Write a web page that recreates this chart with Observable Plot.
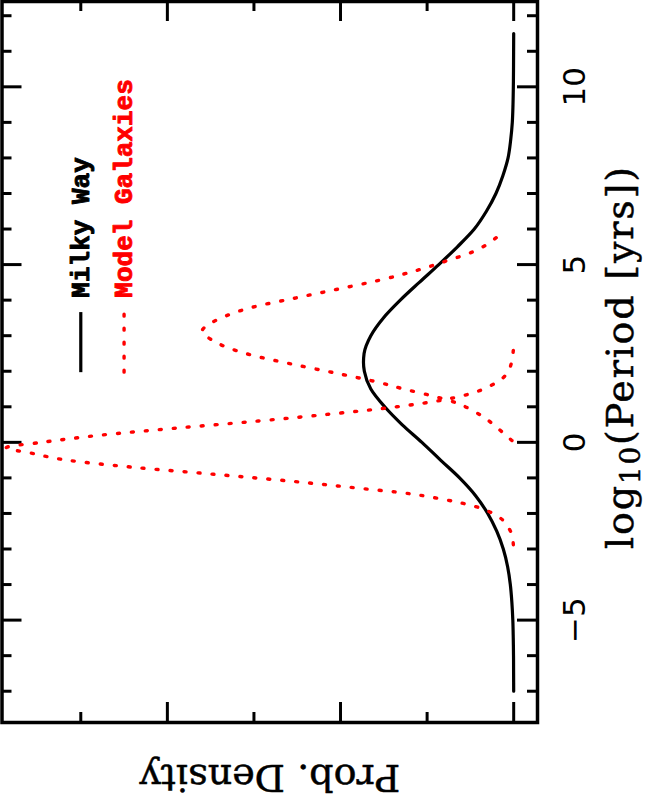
<!DOCTYPE html>
<html>
<head>
<meta charset="utf-8">
<script src="https://cdn.jsdelivr.net/npm/d3@7"></script>
<script src="https://cdn.jsdelivr.net/npm/@observablehq/plot@0.6"></script>
<style>
  html, body { margin: 0; padding: 0; background: #fff; }
  #chart { width: 649px; height: 800px; overflow: hidden; }
</style>
</head>
<body>
<div id="chart"></div>
<script>
// ---- data (log10 period in years, probability density) ----
const mwLogP = [-7,-6.5,-6,-5.5,-5,-4.5,-4,-3.5,-3,-2.5,-2,-1.5,-1,-0.5,0,0.5,1,1.5,2,2.25,2.5,3,3.5,4,4.5,5,5.5,6,6.5,7,7.5,8,8.5,9,9.5,10,10.5,11,11.5];
const mwDensity = [0,0.0001,0.0002,0.0005,0.001,0.0021,0.0039,0.007,0.012,0.0196,0.03,0.044,0.0625,0.0845,0.106,0.129,0.149,0.165,0.1725,0.1735,0.1728,0.165,0.1505,0.131,0.109,0.0865,0.065,0.0455,0.0315,0.0205,0.0125,0.0065,0.0035,0.0016,0.0008,0.0004,0.0002,0.0001,0];

const modelALogP = [-2.88,-2.6,-2.4,-2.2,-2.0,-1.8,-1.6,-1.5,-1.4,-1.3,-1.1,-0.9,-0.7,-0.5,-0.3,-0.15,0,0.2,0.4,0.6,0.8,1.0,1.2,1.4,1.6,1.8,2.0,2.2,2.6];
const modelADensity = [0.0004,0.002,0.006,0.012,0.024,0.045,0.082,0.105,0.135,0.175,0.254,0.345,0.44,0.516,0.558,0.586,0.545,0.478,0.39,0.295,0.21,0.135,0.08,0.046,0.026,0.013,0.006,0.003,0.0004];

const modelBLogP = [0.05,0.2,0.45,0.7,0.9,1.1,1.3,1.5,1.7,1.95,2.2,2.45,2.7,2.9,3.12,3.35,3.55,3.8,4.05,4.3,4.55,4.85,5.1,5.35,5.55,5.78];
const modelBDensity = [0.002,0.009,0.021,0.034,0.048,0.065,0.093,0.127,0.158,0.206,0.256,0.302,0.334,0.35,0.36,0.35,0.333,0.302,0.254,0.205,0.157,0.11,0.078,0.048,0.032,0.019];

const logPMajorTicks = [-5, 0, 5, 10];
const logPMinorTicks = [-7,-6,-4,-3,-2,-1,1,2,3,4,6,7,8,9,11,12];
const densityMajorTicks = [0, 0.2, 0.4];
const densityMinorTicks = [0.1, 0.3, 0.5];

const seriesNames = ["Milky Way", "Model Galaxies"];
const xLabel = "log10(Period [yrs])";
const yLabel = "Prob. Density";

// ---- tables ----
const mw = mwLogP.map((p, i) => ({p, d: mwDensity[i]}));
const modelA = modelALogP.map((p, i) => ({p, d: modelADensity[i]}));
const modelB = modelBLogP.map((p, i) => ({p, d: modelBDensity[i]}));

// ---- layout ----
const W = 649, H = 800;
const mL = 1.5, mR = 112, mT = 1, mB = 78;
const frameW = W - mL - mR, frameH = H - mT - mB;
const majorLen = 20, minorLen = 10;
const tickW = 3;
const dotted = {stroke: "#ff0000", strokeWidth: 3.4, strokeDasharray: "2 12", strokeLinecap: "round"};
const solid = {stroke: "#000", strokeWidth: 3.2};
const labelFont = "DejaVu Serif";
const fmtTick = d => d < 0 ? "\u2212" + Math.abs(d) : String(d);

const plot = Plot.plot({
  width: W, height: H,
  marginLeft: mL, marginRight: mR, marginTop: mT, marginBottom: mB,
  x: {domain: [0.591, -0.0275], axis: null},
  y: {domain: [-7.88, 12.4], axis: null},
  style: {background: "white", overflow: "visible"},
  marks: [
    // log-period ticks (right and left edges, pointing inward)
    Plot.tickY(logPMinorTicks, {y: d => d, insetLeft: frameW - minorLen, stroke: "#000", strokeWidth: tickW}),
    Plot.tickY(logPMinorTicks, {y: d => d, insetRight: frameW - minorLen, stroke: "#000", strokeWidth: tickW}),
    Plot.tickY(logPMajorTicks, {y: d => d, insetLeft: frameW - majorLen, stroke: "#000", strokeWidth: tickW}),
    Plot.tickY(logPMajorTicks, {y: d => d, insetRight: frameW - majorLen, stroke: "#000", strokeWidth: tickW}),
    // density ticks (top and bottom edges, pointing inward)
    Plot.tickX(densityMinorTicks, {x: d => d, insetBottom: frameH - minorLen, stroke: "#000", strokeWidth: tickW}),
    Plot.tickX(densityMinorTicks, {x: d => d, insetTop: frameH - minorLen, stroke: "#000", strokeWidth: tickW}),
    Plot.tickX(densityMajorTicks, {x: d => d, insetBottom: frameH - majorLen, stroke: "#000", strokeWidth: tickW}),
    Plot.tickX(densityMajorTicks, {x: d => d, insetTop: frameH - majorLen, stroke: "#000", strokeWidth: tickW}),
    // curves
    Plot.line(mw, {x: "d", y: "p", curve: "monotone-y", ...solid}),
    Plot.line(modelA, {x: "d", y: "p", curve: "monotone-y", ...dotted}),
    Plot.line(modelB, {x: "d", y: "p", curve: "monotone-y", ...dotted}),
    // frame
    Plot.frame({stroke: "#000", strokeWidth: 3.5}),
    // tick labels
    Plot.text(logPMajorTicks, {y: d => d, text: fmtTick, frameAnchor: "right", dx: 38, rotate: -90,
      textAnchor: "middle", lineAnchor: "middle",
      fontFamily: "DejaVu Sans", fontSize: 31, fill: "#000"}),
    // axis labels
    Plot.text([xLabel], {text: d => d, frameAnchor: "right", dx: 83, dy: -4, rotate: -90,
      textAnchor: "middle", lineAnchor: "middle",
      fontFamily: labelFont, fontSize: 38, fill: "#000", stroke: "#000", strokeWidth: 0.5}),
    Plot.text([yLabel], {text: d => d, frameAnchor: "bottom", dy: 55, rotate: 180,
      textAnchor: "middle", lineAnchor: "middle",
      fontFamily: labelFont, fontSize: 38, fill: "#000", stroke: "#000", strokeWidth: 0.5}),
    // legend
    Plot.ruleX([seriesNames[0]], {x: () => 0.5, y1: () => 1.96, y2: () => 3.65, ...solid}),
    Plot.ruleX([seriesNames[1]], {x: () => 0.45, y1: () => 1.96, y2: () => 3.65, ...dotted}),
    Plot.text([seriesNames[0]], {x: () => 0.5, y: () => 4.07, text: d => d, rotate: -90,
      textAnchor: "start", lineAnchor: "middle",
      fontFamily: "Liberation Mono", fontWeight: "bold", fontSize: 26,
      fill: "#000", stroke: "#000", strokeWidth: 0.9}),
    Plot.text([seriesNames[1]], {x: () => 0.45, y: () => 4.07, text: d => d, rotate: -90,
      textAnchor: "start", lineAnchor: "middle",
      fontFamily: "Liberation Mono", fontWeight: "bold", fontSize: 26,
      fill: "#ff0000", stroke: "#ff0000", strokeWidth: 0.9})
  ]
});

// subscript for log10, stretched to the reference label length
d3.select(plot).selectAll("text")
  .filter(function () { return this.textContent === xLabel; })
  .attr("textLength", 382)
  .attr("lengthAdjust", "spacing")
  .html('log<tspan dy="7" font-size="28">10</tspan><tspan dy="-7">(Period [yrs])</tspan>');

document.getElementById("chart").appendChild(plot);
</script>
</body>
</html>
